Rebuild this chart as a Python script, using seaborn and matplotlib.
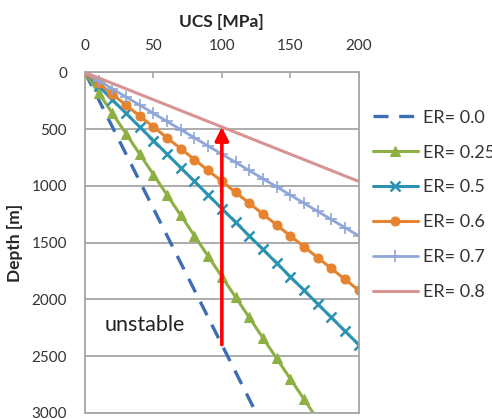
import matplotlib
matplotlib.use("Agg")
import matplotlib.pyplot as plt
import seaborn as sns
import pandas as pd

# UCS values [MPa] at which each curve is sampled
ucs = [0, 10, 20, 30, 40, 50, 60, 70, 80, 90, 100,
       110, 120, 130, 140, 150, 160, 170, 180, 190, 200]

# Depth [m] for each ER curve
depth_er00 = [0, 240, 480, 720, 960, 1200, 1440, 1680, 1920, 2160, 2400,
              2640, 2880, 3120, 3360, 3600, 3840, 4080, 4320, 4560, 4800]
depth_er025 = [0, 180, 360, 540, 720, 900, 1080, 1260, 1440, 1620, 1800,
               1980, 2160, 2340, 2520, 2700, 2880, 3060, 3240, 3420, 3600]
depth_er05 = [0, 120, 240, 360, 480, 600, 720, 840, 960, 1080, 1200,
              1320, 1440, 1560, 1680, 1800, 1920, 2040, 2160, 2280, 2400]
depth_er06 = [0, 96, 192, 288, 384, 480, 576, 672, 768, 864, 960,
              1056, 1152, 1248, 1344, 1440, 1536, 1632, 1728, 1824, 1920]
depth_er07 = [0, 72, 144, 216, 288, 360, 432, 504, 576, 648, 720,
              792, 864, 936, 1008, 1080, 1152, 1224, 1296, 1368, 1440]
depth_er08 = [0, 48, 96, 144, 192, 240, 288, 336, 384, 432, 480,
              528, 576, 624, 672, 720, 768, 816, 864, 912, 960]

series_labels = ["ER= 0.0", "ER= 0.25", "ER= 0.5", "ER= 0.6", "ER= 0.7", "ER= 0.8"]

x_ticks = [0, 50, 100, 150, 200]
y_ticks = [0, 500, 1000, 1500, 2000, 2500, 3000]

arrow_x = 100
arrow_from_depth = 2400
arrow_to_depth = 480

note_text = "unstable"
note_ucs = 14
note_depth = 2230

sns.set_style("white")
plt.rcParams["font.family"] = ["Lato", "DejaVu Sans"]

fig = plt.figure(figsize=(4.92, 4.19), dpi=100)
ax = fig.add_axes([0.1728, 0.015, 0.5562, 0.812])

styles = [
    dict(color="#3D6DB5", lw=2.4, dashes=(4.5, 3.2), marker=None),
    dict(color="#8DB043", lw=2.2, marker="^", ms=6.5),
    dict(color="#2C92B2", lw=2.2, marker="x", ms=7.5, mew=1.8),
    dict(color="#E6832F", lw=2.2, marker="o", ms=6.5),
    dict(color="#8EA6D8", lw=2.0, marker="+", ms=8, mew=1.2),
    dict(color="#D89393", lw=2.2, marker=None),
]
depths = [depth_er00, depth_er025, depth_er05, depth_er06, depth_er07, depth_er08]

for d, lab, st in zip(depths, series_labels, styles):
    df = pd.DataFrame({"UCS": ucs, "Depth": d})
    kw = dict(color=st["color"], linewidth=st["lw"], label=lab, ax=ax,
              sort=False, clip_on=True)
    if st.get("marker"):
        kw.update(marker=st["marker"], markersize=st["ms"],
                  markeredgecolor=st["color"], markerfacecolor=st["color"])
        if "mew" in st:
            kw["markeredgewidth"] = st["mew"]
    sns.lineplot(data=df, x="UCS", y="Depth", **kw)
    if "dashes" in st:
        ax.lines[-1].set_dashes(st["dashes"])

ax.set_xlim(0, 200)
ax.set_ylim(3000, 0)
ax.set_xticks(x_ticks)
ax.set_yticks(y_ticks)
ax.xaxis.tick_top()
ax.xaxis.set_label_position("top")
ax.set_xlabel("UCS [MPa]", fontsize=12.5, fontweight="bold", labelpad=9)
ax.set_ylabel("Depth [m]", fontsize=12.5, fontweight="bold", labelpad=6)

grid_c = "#A6A6A6"
ax.grid(axis="y", color=grid_c, linewidth=1.3)
ax.grid(axis="x", visible=False)
for s in ax.spines.values():
    s.set_color(grid_c)
    s.set_linewidth(1.3)
ax.tick_params(axis="x", direction="in", length=4, width=1.2, color=grid_c,
               labelsize=11, pad=14, labelcolor="#333333")
ax.tick_params(axis="y", direction="out", length=4, width=1.2, color=grid_c,
               labelsize=11, pad=9, labelcolor="#333333")

ax.annotate("", xy=(arrow_x, arrow_to_depth), xytext=(arrow_x, arrow_from_depth),
            arrowprops=dict(arrowstyle="-|>", color="#FF0000", lw=2.6,
                            mutation_scale=20, shrinkA=0, shrinkB=0))

ax.text(note_ucs, note_depth, note_text, fontsize=15.5, ha="left", va="center",
        color="#222222")

leg = ax.legend(loc="upper left", bbox_to_anchor=(1.052, 0.891), frameon=False,
                fontsize=13, handlelength=2.5, handletextpad=0.28,
                labelspacing=1.05, borderaxespad=0.0, borderpad=0.0)
for t in leg.get_texts():
    t.set_color("#333333")

fig.savefig("out.png", dpi=100)
